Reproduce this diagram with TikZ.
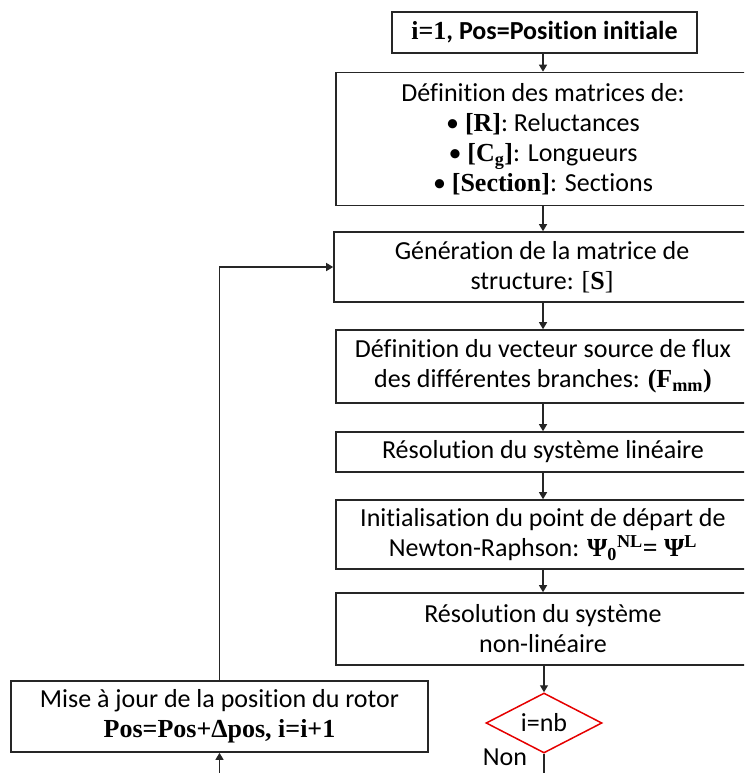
\documentclass[tikz,border=0pt]{standalone}
\usepackage{fontspec}
\setmainfont[Ligatures={NoCommon}]{Carlito}
\newfontfamily\tnr{Liberation Serif}
\usetikzlibrary{arrows.meta,shapes.geometric}
\begin{document}
\begin{tikzpicture}[x=1pt,y=-1pt,
  box/.style={draw=black!85,line width=1.6pt,rectangle,inner sep=0pt,align=center,
    font=\fontsize{26}{30}\selectfont},
  cond/.style={draw=red!90!black,line width=1.5pt,diamond,inner sep=0pt,aspect=1.93,
    minimum width=116pt,minimum height=60pt,font=\fontsize{26}{30}\selectfont},
  conn/.style={draw=black!85,line width=1.3pt,-{Triangle[length=7pt,width=8pt]}},
  plain/.style={draw=black!85,line width=1.3pt},
  lbl/.style={font=\fontsize{26}{30}\selectfont,inner sep=0pt}]
\useasboundingbox (0,0) rectangle (744,773);
\clip (0,0) rectangle (744,773);
\node[box,minimum width=305pt,minimum height=41pt] (b0) at (544.5,32.5)
  {\bfseries{\tnr i=1}, Pos=Position initiale};
\node[box,minimum width=414pt,minimum height=133pt] (b1) at (543,139)
  {Définition des matrices de:\\
   \textbullet\ {\tnr\bfseries [R]}: Reluctances\\
   \textbullet\ {\tnr\bfseries [C\textsubscript{g}]}: Longueurs\\
   \textbullet\ {\tnr\bfseries [Section]}: Sections};
\node[box,minimum width=416pt,minimum height=70pt] (b2) at (542,267)
  {Génération de la matrice de\\ structure: {\tnr[\textbf{S}]}};
\node[box,minimum width=414pt,minimum height=73pt] (b3) at (543,366.5)
  {Définition du vecteur source de flux\\ des différentes branches: {\tnr\bfseries (F\textsubscript{mm})}};
\node[box,minimum width=414pt,minimum height=40pt] (b4) at (543,452)
  {Résolution du système linéaire};
\node[box,minimum width=414pt,minimum height=69pt] (b5) at (543,534.5)
  {Initialisation du point de départ de\\ Newton-Raphson: {\tnr\bfseries Ψ\textsubscript{0}\textsuperscript{NL}= Ψ\textsuperscript{L}}};
\node[box,minimum width=414pt,minimum height=72pt] (b6) at (543,629)
  {Résolution du système\\ non-linéaire};
\node[cond] (d) at (544,723) {i=nb};
\node[box,minimum width=417pt,minimum height=71pt] (upd) at (219.5,716.5)
  {Mise à jour de la position du rotor\\ {\tnr\bfseries Pos=Pos+Δpos, i=i+1}};
\node[lbl] (non) at (505,757) {Non};
\coordinate (dend) at (544,780);
\coordinate (uin) at (219.5,780);
\draw[conn] (b0.south -| 543,0) -- (b1.north -| 543,0);
\draw[conn] (b1.south -| 543,0) -- (b2.north -| 543,0);
\draw[conn] (b2.south -| 543,0) -- (b3.north -| 543,0);
\draw[conn] (b3.south -| 543,0) -- (b4.north -| 543,0);
\draw[conn] (b4.south -| 543,0) -- (b5.north -| 543,0);
\draw[conn] (b5.south -| 543,0) -- (b6.north -| 543,0);
\draw[conn] (b6.south -| 544,0) -- (d.north);
\draw[plain] (d.south) -- (dend);
\draw[conn] (uin) -- (upd.south);
\draw[conn] (upd.north) |- (b2.west);
\end{tikzpicture}
\end{document}
